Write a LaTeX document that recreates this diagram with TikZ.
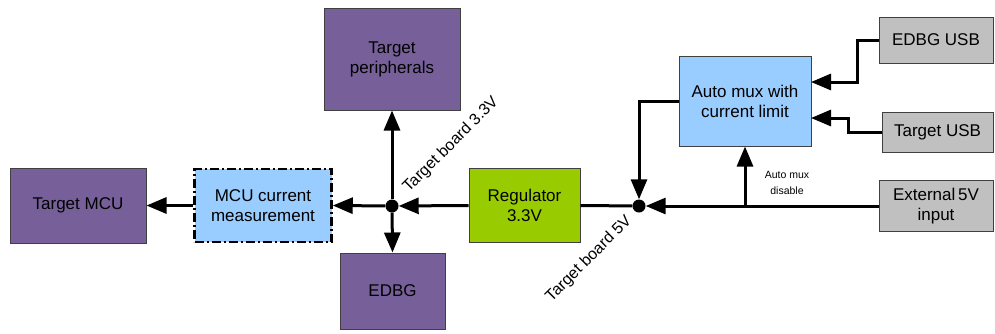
\documentclass[tikz,border=0pt]{standalone}
\usepackage{fontspec}
\setmainfont{Liberation Sans}
\usetikzlibrary{arrows.meta}
\definecolor{purp}{HTML}{77609A}
\definecolor{lblue}{HTML}{99CCFF}
\definecolor{lgreen}{HTML}{99CC00}
\definecolor{lgrey}{HTML}{C0C0C0}
\definecolor{bord}{HTML}{404040}
\tikzset{
  box/.style={draw=bord, line width=1pt, align=center, inner sep=0pt,
    font=\fontsize{17}{20}\selectfont, text=black},
  purplebox/.style={box, fill=purp},
  greybox/.style={box, fill=lgrey},
  arr/.style={line width=3pt, -{Triangle[length=20pt,width=16pt]}},
  wire/.style={line width=3pt},
  dot/.style={circle, fill=black, inner sep=0pt, minimum size=13pt},
  lbl/.style={font=\fontsize{16}{18}\selectfont, inner sep=0pt},
}
\begin{document}
\begin{tikzpicture}[x=1pt,y=-1pt]
\useasboundingbox (0,0) rectangle (995,333);
\node[purplebox, minimum width=136pt, minimum height=75pt] (mcu) at (78,205.5) {Target MCU};
\node[box, fill=lblue, draw=black, line width=2.5pt, dash pattern=on 9pt off 3pt on 2pt off 3pt, minimum width=137pt, minimum height=73pt] (meas) at (263,205.5) {MCU current\\measurement};
\node[purplebox, minimum width=136pt, minimum height=102pt] (peri) at (392,59) {Target\\peripherals};
\node[purplebox, minimum width=105pt, minimum height=76pt] (edbg) at (392.5,291) {EDBG};
\node[box, fill=lgreen, minimum width=111pt, minimum height=74pt] (reg) at (524.5,205.5) {Regulator\\3.3V};
\node[box, fill=lblue, minimum width=132pt, minimum height=90pt] (mux) at (745,101) {Auto mux with\\current limit};
\node[greybox, minimum width=114pt, minimum height=46pt] (eusb) at (936,40) {EDBG USB};
\node[greybox, minimum width=111pt, minimum height=40pt] (tusb) at (937.5,132) {Target USB};
\node[greybox, minimum width=114pt, minimum height=51pt] (ext) at (936,206) {External\,5V\\input};

\node[dot] (j1) at (392,206) {};
\node[dot] (j2) at (639,206) {};

\coordinate (br) at (745,206);
\coordinate (b1) at (857,82);
\coordinate (m1) at (811,82);
\coordinate (b2) at (848,118);
\coordinate (m2) at (811,118);

\draw[arr] (meas.west) -- (mcu.east);
\draw[arr] (j1) -- (meas.east);
\draw[arr] (reg.west) -- (j1);
\draw[arr] (j1) -- (peri.south);
\draw[arr] (j1) -- (edbg.north);
\draw[wire] (j2) -- (reg.east);
\draw[arr] (mux.west) -| (j2);
\draw[arr] (ext.west) -- (j2);
\draw[arr] (br) -- (mux.south);
\draw[arr] (eusb.west) -| (b1) -- (m1);
\draw[arr] (tusb.west) -| (b2) -- (m2);

\node[lbl, rotate=45] (l33) at (451,145) {Target board 3.3V};
\node[lbl, rotate=45] (l5) at (589,259) {Target board 5V};
\node[font=\fontsize{10.5}{16}\selectfont, align=center, inner sep=0pt] (amd) at (787,183) {Auto mux\\disable};
\end{tikzpicture}
\end{document}
